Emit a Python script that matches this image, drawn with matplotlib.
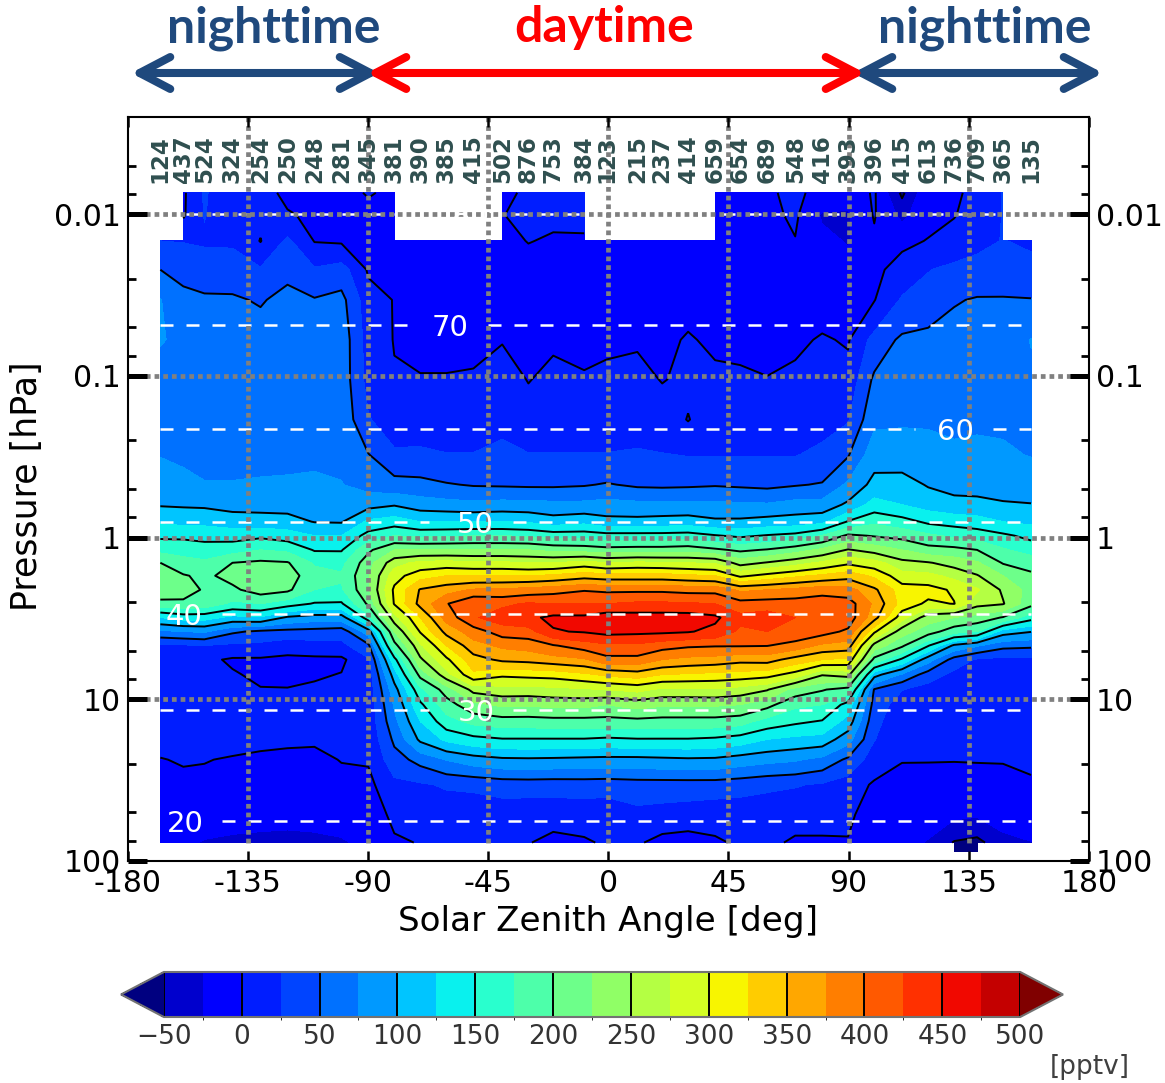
import numpy as np
import matplotlib
matplotlib.use("Agg")
import matplotlib.pyplot as plt
from matplotlib.colors import BoundaryNorm, ListedColormap
from matplotlib.patches import FancyArrowPatch

nan = np.nan

# mean solar zenith angle of each bin [deg]
sza = [-167.7, -159.1, -151.2, -140.7, -130.2, -120.1, -110.0, -99.9, -89.8, -80.1, -70.4, -60.6,
       -50.5, -39.7, -29.9, -20.6, -9.0, -0.7, 10.9, 20.2, 29.9, 40.0, 49.4, 59.5, 70.0, 80.1, 89.8,
       99.6, 110.0, 119.8, 129.5, 138.1, 147.8, 158.3]
# number of samples in each bin
samples = [124, 437, 524, 324, 254, 250, 248, 281, 345, 381, 390, 385, 415, 502, 876, 753, 384, 123,
           215, 237, 414, 659, 654, 689, 548, 416, 393, 396, 415, 613, 736, 709, 365, 135]
pressure = [0.00736, 0.0101, 0.0146, 0.022, 0.0338, 0.0597, 0.105, 0.186, 0.307, 0.47, 0.625, 0.796,
            0.972, 1.19, 1.43, 1.72, 2.1, 2.56, 3.12, 3.81, 4.65, 5.68, 7.03, 8.7, 10.8, 13.7, 17.7,
            23.6, 33.7, 51.6, 76.9, 87.3]

# mixing ratio [pptv], one line per sza bin, one value per pressure level
pptv_columns = [
    [nan, nan, 25, 50, 76, 76, 68, 70, 74, 88, 98, 122, 145, 168, 200, 218, 222, 190, 125, 70, 20, 5, 8, 10, 10, 10, 8, -1, -8, -15, -20, nan],
    [-4, -3, 24, 42, 58, 72, 70, 70, 72, 80, 97, 118, 145, 165, 185, 202, 208, 196, 135, 75, 22, 10, 10, 12, 12, 10, 8, 2, -6, -14, -20, nan],
    [28, 26, 22, 38, 54, 68, 70, 68, 70, 76, 96, 118, 143, 160, 180, 195, 198, 190, 135, 78, 25, 5, 8, 10, 10, 10, 8, 1, -6, -12, -27, nan],
    [5, 10, 22, 36, 54, 70, 70, 68, 70, 76, 92, 112, 140, 165, 200, 208, 195, 170, 118, 54, 20, -3, 2, 8, 10, 10, 8, -2, -10, -15, -30, nan],
    [8, 6, -1, 28, 47, 68, 70, 68, 68, 78, 92, 110, 145, 175, 205, 215, 212, 175, 122, 45, 18, -3, -4, 1, 6, 8, 6, -5, -10, -16, -32, nan],
    [-5, 2, 30, 42, 60, 70, 70, 68, 70, 78, 92, 108, 138, 170, 202, 212, 205, 162, 96, 42, 10, -5, -6, 1, 5, 8, 4, -6, -12, -18, -32, nan],
    [-6, -4, -1, 28, 52, 68, 70, 70, 72, 78, 85, 99, 125, 148, 172, 185, 175, 148, 88, 40, 15, -5, -3, 4, 8, 8, 3, -6, -10, -18, -30, nan],
    [-8, -6, -3, 36, 58, 66, 66, 68, 70, 76, 88, 98, 125, 148, 168, 178, 172, 147, 88, 36, 18, -5, 1, 6, 8, 8, 4, 1, -8, -14, -28, nan],
    [2, -8, -10, -3, 10, 14, 16, 27, 51, 65, 92, 130, 160, 195, 215, 222, 222, 205, 165, 88, 45, 22, 12, 10, 8, 8, 6, 2, -6, -12, -18, nan],
    [-5, -5, -8, -10, -1, -1, 2, 10, 30, 60, 98, 138, 175, 225, 265, 290, 305, 302, 265, 225, 190, 142, 112, 90, 78, 68, 55, 40, 18, 5, -3, nan],
    [nan, nan, -8, -10, -10, -8, 2, 12, 30, 58, 88, 125, 170, 225, 282, 315, 352, 358, 325, 302, 270, 245, 208, 168, 145, 125, 105, 58, 22, 6, 1, nan],
    [nan, nan, -10, -10, -10, -8, 2, 12, 26, 52, 85, 125, 172, 225, 285, 325, 365, 398, 385, 358, 325, 295, 265, 212, 188, 165, 130, 76, 28, 8, 3, nan],
    [nan, nan, -10, -10, -10, -6, 3, 13, 26, 48, 82, 125, 175, 225, 280, 325, 378, 425, 422, 388, 365, 340, 320, 258, 218, 182, 142, 88, 30, 8, 3, nan],
    [-4, -3, -8, -10, -8, -1, 10, 20, 30, 47, 85, 125, 175, 225, 280, 325, 380, 420, 438, 412, 380, 355, 305, 265, 230, 188, 148, 95, 35, 10, 4, nan],
    [3, 25, 1, -12, -12, -8, -1, 12, 26, 46, 84, 122, 172, 225, 275, 325, 385, 428, 445, 415, 385, 358, 308, 265, 228, 188, 148, 96, 36, 8, 1, nan],
    [3, 5, -3, -12, -12, -3, 6, 15, 26, 46, 82, 112, 165, 218, 275, 330, 390, 425, 455, 448, 398, 365, 310, 268, 232, 190, 148, 95, 35, 8, -6, nan],
    [3, 4, -2, -10, -12, -5, 2, 14, 26, 48, 82, 118, 165, 215, 285, 340, 398, 425, 455, 452, 412, 372, 320, 272, 232, 190, 148, 93, 36, 10, -3, nan],
    [nan, nan, -12, -10, -10, -3, 4, 14, 26, 52, 85, 108, 160, 210, 275, 335, 395, 425, 465, 458, 420, 392, 330, 275, 225, 190, 145, 92, 35, 8, 3, nan],
    [nan, nan, -12, -10, -8, -2, 6, 18, 27, 46, 82, 108, 160, 212, 280, 335, 395, 430, 462, 456, 420, 392, 338, 282, 235, 192, 148, 92, 38, 18, 3, nan],
    [nan, nan, -8, -8, -8, -5, -1, 12, 26, 45, 82, 110, 160, 212, 278, 335, 395, 430, 462, 455, 410, 375, 325, 270, 228, 190, 148, 94, 38, 15, -8, nan],
    [nan, nan, -8, -8, -6, 2, 4, -1, 24, 46, 82, 112, 162, 215, 275, 330, 392, 428, 462, 452, 404, 368, 322, 270, 228, 190, 148, 96, 38, 12, -10, nan],
    [-5, -5, -8, -8, -8, -4, 5, 13, 24, 48, 80, 105, 152, 205, 272, 325, 392, 425, 455, 443, 402, 365, 318, 272, 228, 190, 145, 95, 38, 8, -3, nan],
    [-5, -5, -8, -8, -8, -4, 3, 13, 24, 46, 80, 105, 145, 195, 240, 295, 370, 410, 432, 420, 402, 358, 315, 265, 225, 185, 138, 88, 35, 8, 3, nan],
    [-3, -6, -10, -10, -10, -8, 1, 12, 24, 44, 78, 110, 152, 202, 252, 308, 375, 412, 438, 425, 401, 360, 310, 252, 208, 165, 125, 82, 30, 8, 3, nan],
    [5, 4, -1, -10, -10, -4, 5, 14, 24, 48, 85, 112, 158, 215, 265, 320, 382, 412, 425, 420, 390, 340, 290, 215, 180, 155, 118, 78, 27, 5, -2, nan],
    [-8, -28, -18, -10, -8, 2, 10, 18, 30, 52, 85, 118, 176, 230, 280, 330, 390, 415, 420, 410, 370, 325, 252, 202, 175, 148, 115, 68, 22, 5, -2, nan],
    [-15, -28, -27, -15, -5, -2, 8, 23, 48, 80, 105, 152, 205, 252, 295, 340, 385, 412, 415, 395, 365, 320, 260, 190, 140, 115, 85, 45, 12, 3, -1, nan],
    [3, 2, -5, -6, -1, 34, 55, 70, 90, 108, 135, 170, 198, 240, 285, 320, 355, 370, 360, 305, 240, 192, 110, 48, 40, 32, 26, 12, -3, -8, -15, nan],
    [-55, -32, -5, 10, 28, 55, 65, 72, 88, 110, 125, 160, 192, 225, 258, 285, 312, 315, 285, 235, 205, 145, 72, 26, 12, 8, 4, 1, -8, -12, -15, nan],
    [-5, -6, 1, 24, 36, 58, 65, 72, 85, 98, 115, 145, 180, 210, 252, 282, 310, 295, 235, 212, 152, 85, 38, 14, 8, 6, 4, 1, -9, -14, -27, nan],
    [-3, -1, 8, 32, 48, 62, 65, 70, 80, 92, 108, 140, 170, 208, 240, 268, 296, 301, 225, 185, 95, 40, 18, 10, 8, 6, 4, 1, -12, -20, -52, -60],
    [5, 8, 18, 35, 52, 63, 65, 72, 80, 90, 108, 135, 165, 200, 228, 252, 278, 258, 215, 175, 78, 22, 12, 8, 8, 6, 3, 1, -8, -22, -58, -62],
    [26, 26, 26, 36, 52, 62, 65, 72, 78, 88, 103, 125, 155, 178, 198, 225, 246, 252, 198, 112, 58, 18, 10, 8, 8, 6, 2, 1, -6, -15, -32, nan],
    [nan, nan, 20, 35, 51, 76, 70, 70, 74, 88, 101, 120, 143, 165, 190, 205, 215, 208, 160, 101, 55, 20, 12, 10, 10, 8, 6, 4, -3, -8, -26, nan],
]

fill_levels = np.arange(-50, 501, 25)
line_levels = np.arange(-50, 501, 50)
cbar_ticks = np.arange(-50, 501, 50)

sza_ticks = [-180, -135, -90, -45, 0, 45, 90, 135, 180]
pressure_ticks = [0.01, 0.1, 1, 10, 100]
pressure_ticklabels = ["0.01", "0.1", "1", "10", "100"]
pressure_minor = [0.005, 0.0075, 0.025, 0.05, 0.075, 0.25, 0.5, 0.75, 2.5, 5, 7.5, 25, 50, 75]

# altitude lines: label [km], pressure [hPa], label position [deg], gap around the label [deg]
alt_km = [80, 70, 60, 50, 40, 30, 20]
alt_pressure = [0.00993, 0.0482, 0.212, 0.796, 2.95, 11.6, 56.2]
alt_label_sza = [-51.7, -59.2, 130, -49.8, -159, -49.4, -158.4]
alt_gap = [(-60, -45), (-75, -45), (115, 144), (-67, -35.5), (-167.7, -144.5), (-67, -35.5), (-167.7, -144.5)]

W, H = 1165, 1083
fig = plt.figure(figsize=(W / 100, H / 100), dpi=100)
ax = fig.add_axes([127.5 / W, 1 - 861 / H, (1089 - 127.5) / W, (861 - 117) / H])
ax.set_yscale("log")
ax.set_axisbelow(False)

pptv = np.array(pptv_columns, dtype=float).T
cmap = ListedColormap(plt.get_cmap("jet")(np.linspace(0.07, 0.94, 22)))
cmap.set_under(plt.get_cmap("jet")(0.0))
cmap.set_over(plt.get_cmap("jet")(1.0))
norm = BoundaryNorm(fill_levels, cmap.N)

cf = ax.contourf(sza, pressure, pptv, levels=fill_levels, cmap=cmap, norm=norm, extend="both",
                 corner_mask=False, zorder=0.5)
cs = ax.contour(sza, pressure, pptv, levels=line_levels, colors="black", linewidths=1.4,
                linestyles="solid", corner_mask=False, zorder=0.6)

# altitude lines with a gap for the label
for km, p, lab_x, gap in zip(alt_km, alt_pressure, alt_label_sza, alt_gap):
    for x0, x1 in [(sza[0], gap[0]), (gap[1], sza[-1])]:
        if x1 > x0:
            ax.plot([x0, x1], [p, p], color="white", lw=1.8, ls=(0, (5.2, 5.2)), zorder=0.7)
    ax.text(lab_x, p, str(km), color="white", fontsize=21, ha="center", va="center_baseline", zorder=1.2)

# grey dotted grid
for x in sza_ticks[1:-1]:
    ax.plot([x, x], [0.0025, 77], color="gray", lw=3.4, ls=(0, (1, 0.84)), zorder=0.8)
for p in pressure_ticks[:-1]:
    ax.plot([-180, 180], [p, p], color="gray", lw=3.4, ls=(0, (1, 0.84)), zorder=0.8)

for x, n in zip(sza, samples):
    ax.text(x, 0.0064, str(n), rotation=90, ha="center", va="bottom", fontsize=16.5,
            fontweight="bold", color="darkslategray", zorder=1)

ax.set_xlim(-180, 180)
ax.set_ylim(100, 0.0025)
ax.set_xticks(sza_ticks)
ax.set_xticklabels([str(x) for x in sza_ticks])
ax.set_yticks(pressure_ticks)
ax.set_yticklabels(pressure_ticklabels)
ax.set_yticks(pressure_minor, minor=True)
ax.set_yticklabels([], minor=True)
ax.tick_params(axis="x", which="major", direction="in", top=True, length=7, width=1.8,
               labelsize=21.5, pad=6)
ax.tick_params(axis="y", which="major", direction="in", left=True, right=True, labelright=True,
               length=13.5, width=3.6, labelsize=21.5, pad=5)
ax.tick_params(axis="y", which="minor", direction="in", left=True, right=True, length=6, width=2)
for spine in ax.spines.values():
    spine.set_linewidth(1.5)

fig.text(608 / W, 1 - 921 / H, "Solar Zenith Angle [deg]", fontsize=24.7, ha="center", va="center")
fig.text(27 / W, 1 - 486 / H, "Pressure [hPa]", fontsize=25, rotation=90, ha="center", va="center")

# colorbar
cax = fig.add_axes([121 / W, 1 - 1017 / H, 942 / W, 45 / H])
cbar = fig.colorbar(cf, cax=cax, orientation="horizontal", extend="both", extendfrac=0.05,
                    ticks=cbar_ticks, spacing="uniform")
cbar.add_lines(cs)
cbar.outline.set_edgecolor("0.45")
cbar.outline.set_linewidth(1.5)
cax.tick_params(length=0, labelsize=19, pad=5, labelcolor="0.2")
fig.text(1130 / W, 1 - 1067 / H, "[pptv]", fontsize=19, color="0.25", ha="right", va="center")

# day and night arrows on top, ends pushed out a bit because the heads sit inside the line end
night_color = "#1f497d"
for text, x_text, color in [("nighttime", 273.5, night_color), ("daytime", 604.5, "red"),
                            ("nighttime", 984.5, night_color)]:
    fig.text(x_text / W, 1 - 28 / H, text, family="Lato", fontweight="bold", fontsize=36,
             color=color, ha="center", va="center")
for x0, x1, color in [(131, 379, night_color), (853, 1103, night_color), (367, 865, "red")]:
    fig.add_artist(FancyArrowPatch((x0 / W, 1 - 73 / H), (x1 / W, 1 - 73 / H), transform=fig.transFigure,
                                   arrowstyle="<->,head_length=22,head_width=11.5", mutation_scale=1,
                                   lw=5.8, color=color, shrinkA=0, shrinkB=0, capstyle="round"))

fig.savefig("out.png", dpi=100)
